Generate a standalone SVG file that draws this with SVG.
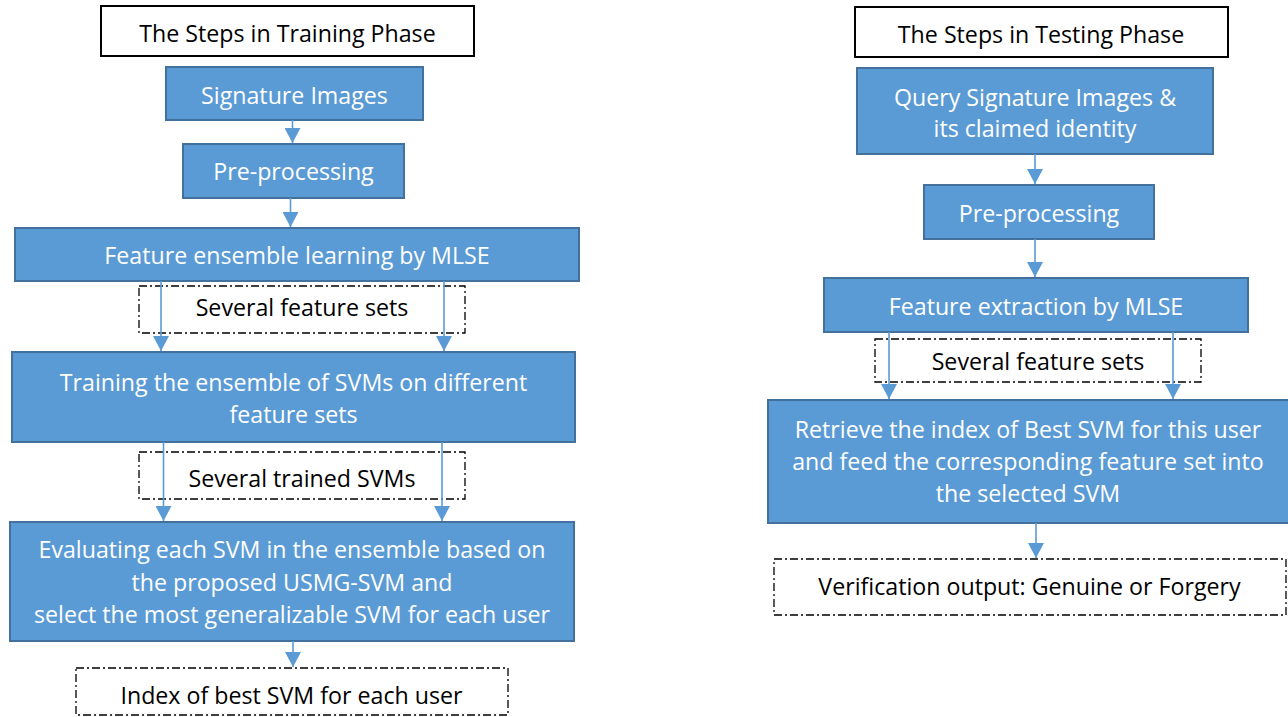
<svg xmlns="http://www.w3.org/2000/svg" width="1288" height="717" viewBox="0 0 1288 717">
<style>
  .bg{fill:#ffffff}
  .title{fill:#ffffff;stroke:#000000;stroke-width:2}
  .step{fill:#5B9BD5;stroke:#41719C;stroke-width:2}
  .note{fill:#ffffff;stroke:#000000;stroke-width:1.3;stroke-dasharray:8 3 2 3}
  .wt{font-family:"Open Sans","Liberation Sans",sans-serif;font-size:23.2px;fill:#ffffff;text-anchor:middle}
  .bt{font-family:"Open Sans","Liberation Sans",sans-serif;font-size:23.2px;fill:#000000;text-anchor:middle}
  .conn{stroke:#5B9BD5;stroke-width:1.6;fill:none;marker-end:url(#ah)}
</style>
<defs>
  <marker id="ah" markerUnits="userSpaceOnUse" markerWidth="16" markerHeight="16" viewBox="0 0 16 15" refX="8" refY="15" orient="0">
    <path d="M0,0 L16,0 L8,15 Z" fill="#5B9BD5"/>
  </marker>
</defs>
<rect class="bg" x="0" y="0" width="1288" height="717"/>

<!-- Training phase -->
<g id="train-title"><rect class="title" x="101" y="6" width="373" height="50"/><text class="bt" x="287.5" y="42">The Steps in Training Phase</text></g>
<g id="train-sig"><rect class="step" x="166" y="67" width="257" height="53"/><text class="wt" x="294.5" y="104">Signature Images</text></g>
<g id="train-pre"><rect class="step" x="183" y="144" width="221" height="54"/><text class="wt" x="293.5" y="180">Pre-processing</text></g>
<g id="train-feat"><rect class="step" x="15" y="228" width="564" height="53"/><text class="wt" x="297" y="264">Feature ensemble learning by MLSE</text></g>
<g id="train-sets"><rect class="note" x="139" y="286" width="326" height="47"/><text class="bt" x="302" y="316">Several feature sets</text></g>
<g id="train-svm"><rect class="step" x="12" y="352" width="563" height="90"/><text class="wt" x="293.5" y="391">Training the ensemble of SVMs on different</text><text class="wt" x="293.5" y="423">feature sets</text></g>
<g id="train-trained"><rect class="note" x="139" y="452" width="326" height="47"/><text class="bt" x="302" y="487">Several trained SVMs</text></g>
<g id="train-eval"><rect class="step" x="10" y="522" width="564" height="119"/><text class="wt" x="292" y="558">Evaluating each SVM in the ensemble based on</text><text class="wt" x="292" y="591">the proposed USMG-SVM and</text><text class="wt" x="292" y="623">select the most generalizable SVM for each user</text></g>
<g id="train-index"><rect class="note" x="76" y="668" width="432" height="47"/><text class="bt" x="291.5" y="704">Index of best SVM for each user</text></g>

<!-- Testing phase -->
<g id="test-title"><rect class="title" x="855" y="7" width="373" height="50"/><text class="bt" x="1041" y="43">The Steps in Testing Phase</text></g>
<g id="test-query"><rect class="step" x="857" y="68" width="356" height="86"/><text class="wt" x="1035" y="106">Query Signature Images &amp;</text><text class="wt" x="1035" y="137">its claimed identity</text></g>
<g id="test-pre"><rect class="step" x="924" y="185" width="230" height="54"/><text class="wt" x="1039" y="222">Pre-processing</text></g>
<g id="test-feat"><rect class="step" x="824" y="278" width="424" height="54"/><text class="wt" x="1036" y="315">Feature extraction by MLSE</text></g>
<g id="test-sets"><rect class="note" x="875" y="339" width="326" height="43"/><text class="bt" x="1038" y="370">Several feature sets</text></g>
<g id="test-retrieve"><rect class="step" x="768" y="400" width="522" height="123"/><text class="wt" x="1028" y="438">Retrieve the index of Best SVM for this user</text><text class="wt" x="1028" y="470">and feed the corresponding feature set into</text><text class="wt" x="1028" y="502">the selected SVM</text></g>
<g id="test-verify"><rect class="note" x="774" y="559" width="512" height="56"/><text class="bt" x="1029.5" y="595">Verification output: Genuine or Forgery</text></g>

<g id="connectors">
  <line class="conn" x1="292.5" y1="120" x2="292.5" y2="143"/>
  <line class="conn" x1="290.5" y1="198" x2="290.5" y2="227"/>
  <line class="conn" x1="161" y1="281" x2="161" y2="351"/>
  <line class="conn" x1="444" y1="281" x2="444" y2="351"/>
  <line class="conn" x1="163.5" y1="442" x2="163.5" y2="521"/>
  <line class="conn" x1="442" y1="442" x2="442" y2="521"/>
  <line class="conn" x1="293" y1="641" x2="293" y2="667"/>
  <line class="conn" x1="1035" y1="154" x2="1035" y2="184"/>
  <line class="conn" x1="1035" y1="239" x2="1035" y2="277"/>
  <line class="conn" x1="889" y1="332" x2="889" y2="399"/>
  <line class="conn" x1="1173" y1="332" x2="1173" y2="399"/>
  <line class="conn" x1="1036" y1="523" x2="1036" y2="558"/>
</g>
</svg>
